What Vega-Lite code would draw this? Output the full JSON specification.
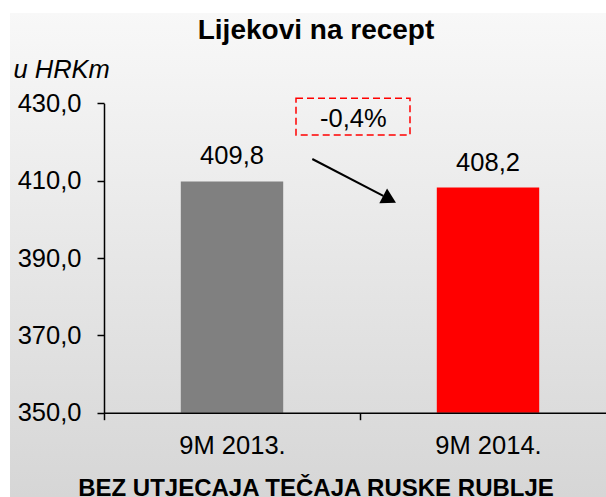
{
  "$schema": "https://vega.github.io/schema/vega-lite/v6.json",
  "autosize": "none",
  "width": 596,
  "height": 484,
  "padding": {"left": 10, "top": 13, "right": 0, "bottom": 0},
  "background": "white",
  "config": {
    "font": "Liberation Sans",
    "view": {
      "stroke": null,
      "fill": {
        "gradient": "linear",
        "x1": 0, "y1": 0, "x2": 0, "y2": 1,
        "stops": [
          {"offset": 0, "color": "#f8f8f8"},
          {"offset": 1, "color": "#d6d6d6"}
        ]
      }
    },
    "locale": {
      "number": {"decimal": ",", "thousands": ".", "grouping": [3], "currency": ["", " kn"]}
    }
  },
  "datasets": {
    "bars": [
      {"period": "9M 2013.", "value": 409.8},
      {"period": "9M 2014.", "value": 408.2}
    ],
    "box": [{"bx1": 0.75, "bx2": 1.1953, "by1": 421.8, "by2": 431.29, "label": "-0,4%", "lx": 0.9738, "ly": 423.95}],
    "arrow": [{"ax1": 0.8137, "ay1": 415.6, "ax2": 1.091, "ay2": 406.07, "hx": 1.1156, "hy": 405.18}]
  },
  "layer": [
    {
      "data": {"name": "bars"},
      "mark": {"type": "bar", "width": {"band": 0.4}},
      "encoding": {
        "x": {
          "field": "period", "type": "nominal", "sort": null,
          "scale": {"range": [94, 606], "paddingInner": 0, "paddingOuter": 0},
          "axis": {
            "orient": "bottom", "offset": -84.3, "tickBand": "extent",
            "tickSize": 7, "tickColor": "black", "tickWidth": 1.5,
            "domainColor": "black", "domainWidth": 1.5,
            "labelFontSize": 25.5, "labelColor": "black", "labelAngle": 0,
            "labelBaseline": "alphabetic", "labelPadding": 33.6,
            "title": "BEZ UTJECAJA TEČAJA RUSKE RUBLJE",
            "titleFontSize": 24, "titleFontWeight": "bold", "titleColor": "black",
            "titleX": 305.5, "titleY": 82.5, "titleAlign": "center", "titleBaseline": "alphabetic",
            "zindex": 1, "grid": false
          }
        },
        "y": {
          "field": "value", "type": "quantitative",
          "scale": {"domain": [350, 430], "range": [399.7, 90.3], "nice": false, "zero": false},
          "axis": {
            "values": [350, 370, 390, 410, 430], "format": ".1f", "offset": -94,
            "domainColor": "black", "domainWidth": 1.5,
            "tickColor": "black", "tickWidth": 1.5, "tickSize": 7,
            "labelFontSize": 25.5, "labelColor": "black", "labelPadding": 16,
            "labelFlush": false, "labelOverlap": false, "labelBaseline": "middle",
            "grid": false, "zindex": 1,
            "title": "u HRKm", "titleAngle": 0, "titleAlign": "left", "titleBaseline": "alphabetic",
            "titleX": -91, "titleY": 64, "titleFontSize": 25.5, "titleFontStyle": "italic",
            "titleFontWeight": "normal", "titleColor": "black"
          }
        },
        "y2": {"datum": 350},
        "color": {
          "field": "period", "type": "nominal", "sort": null,
          "scale": {"range": ["#808080", "#ff0000"]},
          "legend": null
        }
      }
    },
    {
      "data": {"name": "bars"},
      "mark": {"type": "text", "dy": -17, "fontSize": 25.5, "align": "center", "baseline": "alphabetic", "color": "black"},
      "encoding": {
        "x": {
          "field": "period", "type": "nominal", "sort": null,
          "scale": {"range": [94, 606], "paddingInner": 0, "paddingOuter": 0},
          "axis": null
        },
        "y": {"field": "value", "type": "quantitative"},
        "text": {"field": "value", "type": "quantitative", "format": ".1f"}
      }
    },
    {
      "data": {"name": "box"},
      "mark": {"type": "rect", "fillOpacity": 0, "stroke": "#ff0000", "strokeWidth": 1.5, "strokeDash": [7, 4]},
      "encoding": {
        "x": {
          "field": "bx1", "type": "quantitative",
          "scale": {"domain": [0, 2], "range": [94, 606], "nice": false, "zero": false},
          "axis": {
            "orient": "top", "domain": false, "ticks": false, "labels": false, "grid": false,
            "title": "Lijekovi na recept", "titleFontSize": 28, "titleFontWeight": "bold",
            "titleColor": "black", "titleX": 305.5, "titleY": 25.3, "titleAlign": "center",
            "titleBaseline": "alphabetic", "titleFont": "Liberation Sans"
          }
        },
        "x2": {"field": "bx2"},
        "y": {"field": "by1", "type": "quantitative"},
        "y2": {"field": "by2"}
      }
    },
    {
      "data": {"name": "box"},
      "mark": {"type": "text", "fontSize": 25.5, "align": "center", "baseline": "alphabetic", "color": "black"},
      "encoding": {
        "x": {"field": "lx", "type": "quantitative", "scale": {"domain": [0, 2], "range": [94, 606], "nice": false, "zero": false}, "axis": null},
        "y": {"field": "ly", "type": "quantitative"},
        "text": {"field": "label", "type": "nominal"}
      }
    },
    {
      "data": {"name": "arrow"},
      "mark": {"type": "rule", "color": "black", "strokeWidth": 2},
      "encoding": {
        "x": {"field": "ax1", "type": "quantitative", "scale": {"domain": [0, 2], "range": [94, 606], "nice": false, "zero": false}, "axis": null},
        "x2": {"field": "ax2"},
        "y": {"field": "ay1", "type": "quantitative"},
        "y2": {"field": "ay2"}
      }
    },
    {
      "data": {"name": "arrow"},
      "mark": {"type": "point", "shape": "triangle-right", "size": 279, "angle": 27.6, "filled": true, "color": "black", "opacity": 1, "strokeWidth": 0},
      "encoding": {
        "x": {"field": "hx", "type": "quantitative", "scale": {"domain": [0, 2], "range": [94, 606], "nice": false, "zero": false}, "axis": null},
        "y": {"field": "hy", "type": "quantitative"}
      }
    }
  ],
  "resolve": {"scale": {"x": "independent"}, "axis": {"x": "independent"}}
}
